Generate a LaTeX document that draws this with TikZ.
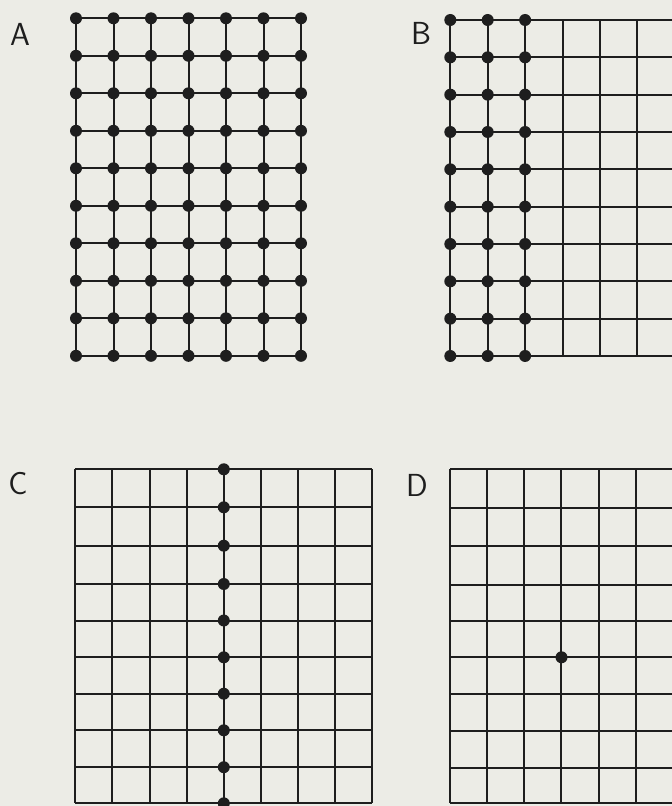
\documentclass[tikz,border=0pt]{standalone}
\definecolor{paper}{RGB}{236,236,230}
\definecolor{ink}{RGB}{30,30,30}
\begin{document}
\begin{tikzpicture}[x=1bp,y=-1bp,
  gridline/.style={draw=ink,line width=2bp},
  dot/.style={circle,fill=ink,inner sep=0pt,minimum size=12bp},
  panellabel/.style={font=\sffamily\fontsize{32}{32}\selectfont,text=ink,inner sep=0pt}]
\fill[paper] (0,0) rectangle (672,806);
\useasboundingbox (0,0) rectangle (672,806);
\begin{scope}
\clip (0,0) rectangle (672,806);
% ---------- Panel A ----------
\foreach \i in {0,...,6}
  \draw[gridline] ({76+37.5*\i},18.3) -- ({76+37.5*\i},356);
\foreach \j in {0,...,9}
  \draw[gridline] (76,{18.3+37.5*\j}) -- (301,{18.3+37.5*\j});
\foreach \i in {0,...,6}
  \foreach \j in {0,...,9}
    \node[dot] (A-\i-\j) at ({76+37.5*\i},{18.3+37.5*\j}) {};
% ---------- Panel B ----------
\foreach \i in {0,...,6}
  \draw[gridline] ({450.3+37.4*\i},20) -- ({450.3+37.4*\i},356);
\foreach \j in {0,...,9}
  \draw[gridline] (450.3,{20+37.33*\j}) -- (690,{20+37.33*\j});
\foreach \i in {0,...,2}
  \foreach \j in {0,...,9}
    \node[dot] (B-\i-\j) at ({450.3+37.4*\i},{20+37.33*\j}) {};
% ---------- Panel C ----------
\foreach \i in {0,...,8}
  \draw[gridline] ({75.3+37.125*\i},469.3) -- ({75.3+37.125*\i},803.3);
\foreach \y in {469.3,507.3,545.7,584,620.5,657.3,693.7,730.3,767.2,803.3}
  \draw[gridline] (75.3,\y) -- (372.3,\y);
\foreach \y [count=\j] in {469.3,507.3,545.7,584,620.5,657.3,693.7,730.3,767.2,803.3}
  \node[dot] (C-\j) at (223.8,\y) {};
% ---------- Panel D ----------
\foreach \i in {0,...,6}
  \draw[gridline] ({450+37.15*\i},469.3) -- ({450+37.15*\i},803.3);
\foreach \y in {469.3,507.8,546.2,584.5,621,657.3,694,730.7,767.5,803.3}
  \draw[gridline] (450,\y) -- (690,\y);
\node[dot] (D-dot) at (561.5,657.3) {};
\end{scope}
% ---------- Labels ----------
\node[panellabel] (labA) at (20,34) {A};
\node[panellabel] (labB) at (421,33) {B};
\node[panellabel] (labC) at (18,484) {C};
\node[panellabel] (labD) at (417,485) {D};
\end{tikzpicture}
\end{document}
